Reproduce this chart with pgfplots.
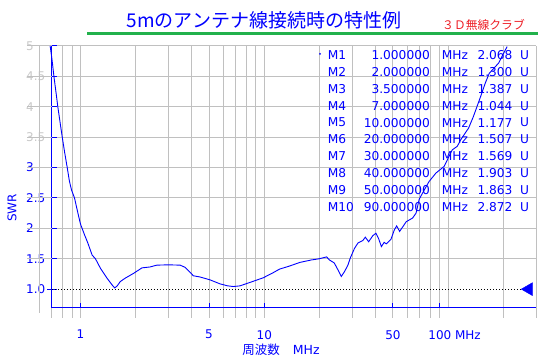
\documentclass[border=0pt]{standalone}
\usepackage{pgfplots}
\pgfplotsset{compat=1.18}
\usepackage{fontspec}
\setmainfont{DejaVu Sans}
\newfontfamily\cjk{Noto Sans CJK JP}
\definecolor{myblue}{RGB}{0,0,255}
\definecolor{mygray}{RGB}{192,192,192}
\definecolor{labgray}{RGB}{200,200,200}
\definecolor{mygreen}{RGB}{34,177,76}
\definecolor{myred}{RGB}{237,28,36}
\begin{document}
\begin{tikzpicture}[x=1pt,y=1pt]
\useasboundingbox (-52,-55) rectangle (500,308);
\begin{axis}[
  at={(0,0)}, anchor=south west,
  scale only axis, width=484pt, height=262pt,
  xmode=log, xmin=0.7, xmax=300, ymin=0.69, ymax=5,
  clip=false,
  axis x line*=bottom, axis y line*=left,
  x axis line style={myblue, line width=1pt, -},
  y axis line style={myblue, line width=1pt, -},
  xtick={1,5,10,50,90},
  xticklabels={1,5,10,50,{100\rlap{ MHz}}},
  minor xtick={0.7,0.8,0.9,2,3,4,6,7,8,9,20,30,40,60,70,80,100,200,300},
  ytick={1.5,2,2.5,3,3.5,4,4.5,5},
  yticklabels={\textcolor{myblue}{1.5},\textcolor{myblue}{2},\textcolor{myblue}{2.5},\textcolor{myblue}{3},\textcolor{labgray}{3.5},\textcolor{labgray}{4},\textcolor{labgray}{4.5},\textcolor{labgray}{5}},
  extra y ticks={1},
  extra y tick labels={\textcolor{myblue}{1.0}},
  extra y tick style={grid=none},
  xmajorgrids, xminorgrids, ymajorgrids,
  grid style={mygray, line width=1pt},
  major grid style={mygray, line width=1pt},
  minor grid style={mygray, line width=1pt},
  tick align=center,
  major tick length=10pt,
  minor tick length=0pt,
  tick style={myblue, line width=1pt},
  xticklabel style={anchor=north, inner sep=0pt, yshift=-17pt, text=myblue, font=\fontsize{12}{14}\selectfont},
  yticklabel style={anchor=west, inner sep=0pt, xshift=-21pt, font=\fontsize{12}{14}\selectfont},
  xlabel={{\cjk 周波数}\hspace{13pt}MHz},
  xlabel style={at={(axis description cs:0.473,-0.160)}, anchor=center, inner sep=0pt, text=myblue, font=\fontsize{12.5}{14}\selectfont},
  ylabel={SWR},
  ylabel style={at={(axis description cs:-0.0826,0.382)}, anchor=center, inner sep=0pt, text=myblue, font=\fontsize{12}{14}\selectfont},
]
\pgfplotsinvokeforeach{1.5,2,2.5,3,3.5,4,4.5,5}{
  \draw[mygray, line width=1pt] (axis cs:0.7,#1) -- ++(-25pt,0pt);
}
\pgfplotsinvokeforeach{0.7,0.8,0.9,1,2,3,4,5,6,7,8,9,10,20,30,40,50,60,70,80,90,200,300}{
  \draw[mygray, line width=1pt] (axis cs:#1,0.69) -- ++(0pt,-10pt);
}
\addplot[black, line width=0.9pt, dash pattern=on 0.9pt off 2.1pt] coordinates {(0.7,1) (268,1)};
\addplot[myblue, only marks, mark=triangle*, mark size=7.5pt, mark options={rotate=90, fill=myblue, draw=myblue}] coordinates {(274,1)};
\addplot[myblue, line width=0.9pt] coordinates {
(0.684,5.00) (0.700,4.78) (0.717,4.50) (0.735,4.25) (0.753,4.00) (0.775,3.74)
(0.796,3.50) (0.820,3.25) (0.847,3.00) (0.870,2.78) (0.894,2.63) (0.928,2.50)
(0.965,2.27) (1.00,2.07) (1.05,1.90) (1.096,1.76) (1.157,1.56) (1.206,1.50)
(1.283,1.345) (1.395,1.18) (1.485,1.07) (1.535,1.02) (1.58,1.05) (1.646,1.125)
(1.75,1.18) (1.944,1.26) (2.16,1.35) (2.39,1.365) (2.6,1.395) (3.0,1.40)
(3.48,1.395) (3.7,1.36) (3.86,1.306) (4.11,1.22) (4.47,1.20) (5.06,1.153)
(5.74,1.087) (6.3,1.055) (6.77,1.043) (7.36,1.054) (8.34,1.11) (9.84,1.186)
(11.0,1.26) (12.1,1.33) (13.7,1.38) (15.6,1.44) (18.0,1.48) (19.9,1.50)
(21.8,1.53) (22.6,1.48) (24.0,1.43) (25.1,1.32) (26.2,1.21) (27.3,1.29)
(28.5,1.40) (29.3,1.51) (30.9,1.67) (32.3,1.76) (34.3,1.80) (35.4,1.855)
(36.9,1.78) (38.9,1.88) (40.4,1.92) (41.7,1.84) (43.3,1.70) (44.8,1.77)
(46.0,1.745) (48.8,1.82) (50.9,1.975) (52.4,2.04) (54.4,1.95) (56.7,2.03)
(59.1,2.11) (64.0,2.17) (66.8,2.25) (69.5,2.48) (74,2.63) (78.6,2.77)
(85.7,2.91) (95,3.02) (105,3.29) (112,3.35) (117,3.46) (129,3.65)
(137,3.84) (150,4.17) (159,4.39) (167,4.55) (188,4.72) (196,4.83) (209,4.99)
};
\end{axis}
\draw[mygray, line width=1pt] (-12,262) -- (-12,-5);
\node[font=\cjk\fontsize{19}{22}\selectfont, text=myblue] at (212,287.5) {5mのアンテナ線接続時の特性例};
\draw[mygreen, line width=3pt] (35.3,274.7) -- (486.3,274.7);
\node[font=\cjk\fontsize{11.8}{14}\selectfont, text=myred] at (431.5,283.5) {３Ｄ無線クラブ};
\fill[myblue] (268,254) circle (1pt);
\foreach \m/\f/\v [count=\i from 0] in {M1/1.000000/2.068, M2/2.000000/1.300, M3/3.500000/1.387, M4/7.000000/1.044, M5/10.000000/1.177, M6/20.000000/1.507, M7/30.000000/1.569, M8/40.000000/1.903, M9/50.000000/1.863, M10/90.000000/2.872}{
  \node[anchor=west, inner sep=0pt, text=myblue, font=\fontsize{12.2}{14}\selectfont] at (275.7,{253-16.9*\i}) {\m};
  \node[anchor=east, inner sep=0pt, text=myblue, font=\fontsize{12.2}{14}\selectfont] at (378,{253-16.9*\i}) {\f};
  \node[anchor=west, inner sep=0pt, text=myblue, font=\fontsize{12.2}{14}\selectfont] at (389.7,{253-16.9*\i}) {MHz};
  \node[anchor=east, inner sep=0pt, text=myblue, font=\fontsize{12.2}{14}\selectfont] at (460.7,{253-16.9*\i}) {\v};
  \node[anchor=west, inner sep=0pt, text=myblue, font=\fontsize{12.2}{14}\selectfont] at (468,{253-16.9*\i}) {U};
}
\end{tikzpicture}
\end{document}
